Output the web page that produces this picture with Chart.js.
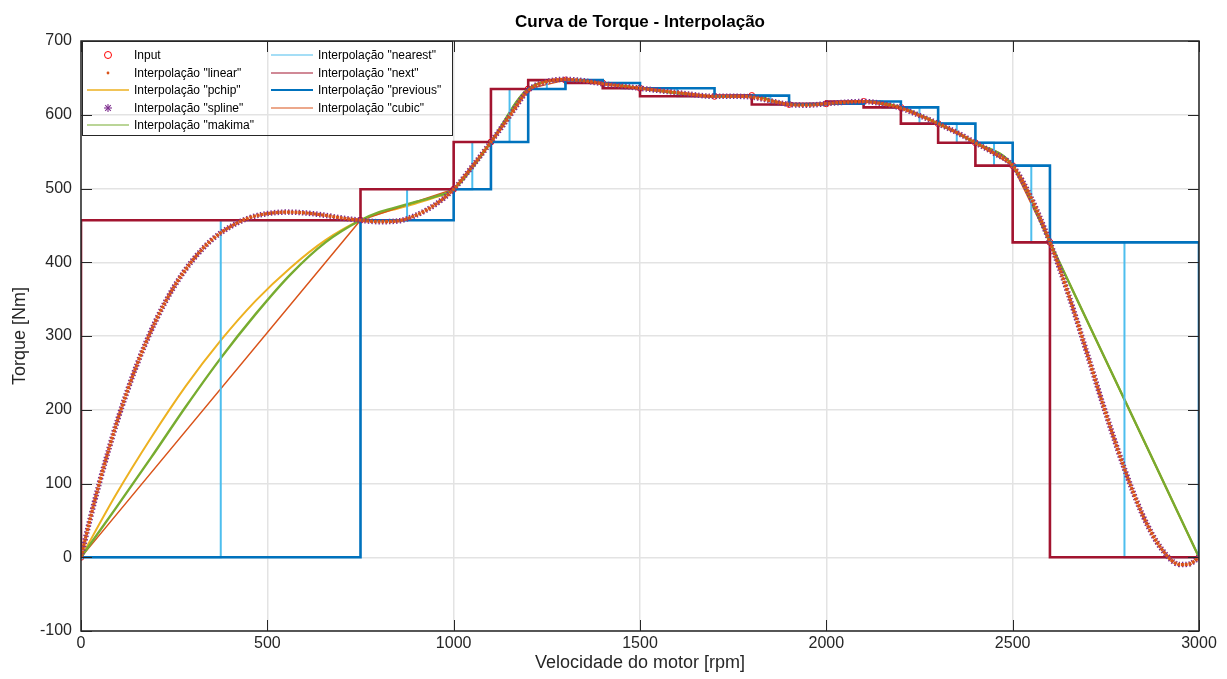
<!DOCTYPE html>
<html>
<head>
<meta charset="utf-8">
<script src="https://cdn.jsdelivr.net/npm/chart.js@4.4.1/dist/chart.umd.min.js"></script>
<style>
  body { margin: 0; background: #fff; }
  #wrap { position: relative; width: 1227px; height: 679px; font-family: "Liberation Sans", Arial, Helvetica, sans-serif; }
  #chart { position: absolute; left: 0; top: 0; }
  #title { position: absolute; left: 81px; width: 1118px; top: 11px; line-height: 22px; text-align: center; font-weight: bold; font-size: 17px; color: #000; }
  #legend { position: absolute; left: 82px; top: 41px; width: 371px; height: 95px; border: 1px solid #262626; box-sizing: border-box; }
  .item { position: absolute; height: 16px; font-size: 12px; line-height: 16px; color: #000; white-space: nowrap; }
  .item svg { position: absolute; left: 0; top: 2px; }
  .item span { position: absolute; left: 47px; top: 0; }
</style>
</head>
<body>
<div id="wrap">
  <canvas id="chart" width="1227" height="679"></canvas>
  <div id="title">Curva de Torque - Interpolação</div>
  <div id="legend"></div>
</div>
<script>
// ---------- data ----------
const chartTitle = 'Curva de Torque - Interpolação';
const xAxisTitle = 'Velocidade do motor [rpm]';
const yAxisTitle = 'Torque [Nm]';
const xTicks = [0, 500, 1000, 1500, 2000, 2500, 3000];
const yTicks = [-100, 0, 100, 200, 300, 400, 500, 600, 700];

// input points (rpm, Nm)
const inputRpm    = [0, 750, 1000, 1100, 1200, 1300, 1400, 1500, 1700, 1800, 1900, 2000, 2100, 2200, 2300, 2400, 2500, 2600, 3000];
const inputTorque = [0, 457, 499, 563, 635, 647, 643, 636, 625, 626, 614, 615, 618, 610, 588, 562, 531, 427, 0];

// dense-marker curve ("linear" dots / "spline" asterisks)
const splineRpm    = [0, 25, 50, 75, 100, 150, 200, 250, 300, 350, 400, 450, 500, 550, 600, 650, 700, 750, 800, 850, 900, 950, 1000, 1050, 1100, 1150, 1200, 1250, 1300, 1350, 1400, 1450, 1500, 1600, 1700, 1750, 1800, 1850, 1900, 1950, 2000, 2050, 2100, 2150, 2200, 2250, 2300, 2350, 2400, 2450, 2500, 2550, 2600, 2650, 2700, 2750, 2800, 2850, 2900, 2950, 2975, 3000];
const splineTorque = [0, 53, 102, 147, 189, 261, 320, 367, 403, 430, 448, 460, 466, 468, 467, 464, 460, 457, 455, 456, 464, 478, 499, 530, 563, 598, 633, 645, 648, 646, 642, 639, 636, 630, 625, 625, 624, 619, 614, 613, 615, 617, 618, 615, 609, 599, 588, 576, 562, 548, 531, 487, 427, 356, 276, 195, 120, 56, 11, -10, -9, 0];

// pchip curve
const pchipRpm    = [0, 94, 188, 281, 375, 469, 563, 656, 750, 800, 850, 900, 950, 1000, 1100, 1200, 1300, 1400, 1500, 1700, 1800, 1900, 2000, 2100, 2200, 2300, 2400, 2500, 2600, 3000];
const pchipTorque = [0, 85, 162, 232, 294, 348, 393, 430, 457, 466, 473, 480, 488, 499, 563, 635, 647, 643, 636, 625, 626, 614, 615, 618, 610, 588, 562, 531, 427, 0];

// makima curve
const makimaRpm    = [0, 94, 188, 281, 375, 469, 563, 656, 750, 800, 850, 900, 950, 1000, 1100, 1200, 1300, 1400, 1500, 1700, 1800, 1900, 2000, 2100, 2200, 2300, 2400, 2500, 2600, 3000];
const makimaTorque = [0, 67, 135, 204, 270, 330, 384, 427, 457, 468, 475, 482, 489, 499, 563, 635, 647, 643, 636, 625, 626, 614, 615, 618, 610, 588, 562, 531, 427, 0];

const seriesNames = ['Input', 'Interpolação "linear"', 'Interpolação "pchip"', 'Interpolação "spline"', 'Interpolação "makima"',
                     'Interpolação "nearest"', 'Interpolação "next"', 'Interpolação "previous"', 'Interpolação "cubic"'];
const colors = { input: '#FF0000', linear: '#D95319', pchip: '#EDB120', spline: '#7E2F8E', makima: '#77AC30',
                 nearest: '#4DBEEE', next: '#A2142F', previous: '#0072BD', cubic: '#D95319' };

// ---------- build ----------
const pts = (xs, ys) => xs.map((x, i) => ({ x: x, y: ys[i] }));
const lineBase = { pointRadius: 0, pointHoverRadius: 0, fill: false, tension: 0 };

const datasets = [
  Object.assign({}, lineBase, { label: seriesNames[1], data: pts(splineRpm, splineTorque), borderColor: colors.linear, borderWidth: 3.2, borderDash: [3, 0.8], cubicInterpolationMode: 'monotone' }),
  Object.assign({}, lineBase, { label: seriesNames[3], data: pts(splineRpm, splineTorque), borderColor: colors.spline, borderWidth: 5.5, borderDash: [1.5, 2], cubicInterpolationMode: 'monotone' }),
  Object.assign({}, lineBase, { label: seriesNames[7], data: pts(inputRpm, inputTorque), borderColor: colors.previous, borderWidth: 2.6, stepped: 'before' }),
  Object.assign({}, lineBase, { label: seriesNames[6], data: pts(inputRpm, inputTorque), borderColor: colors.next, borderWidth: 2.6, stepped: 'after' }),
  Object.assign({}, lineBase, { label: seriesNames[5], data: pts(inputRpm, inputTorque), borderColor: colors.nearest, borderWidth: 2, stepped: 'middle' }),
  Object.assign({}, lineBase, { label: seriesNames[4], data: pts(makimaRpm, makimaTorque), borderColor: colors.makima, borderWidth: 2.4, cubicInterpolationMode: 'monotone' }),
  Object.assign({}, lineBase, { label: seriesNames[8], data: pts(inputRpm, inputTorque), borderColor: colors.cubic, borderWidth: 1.4 }),
  Object.assign({}, lineBase, { label: seriesNames[2], data: pts(pchipRpm, pchipTorque), borderColor: colors.pchip, borderWidth: 2, cubicInterpolationMode: 'monotone' }),
  { label: seriesNames[0], data: pts(inputRpm, inputTorque), showLine: false, pointStyle: 'circle', pointRadius: 3, pointBorderWidth: 1,
    pointBorderColor: colors.input, pointBackgroundColor: 'rgba(0,0,0,0)', borderColor: colors.input }
];

const axesPlugin = {
  id: 'matlabAxes',
  afterDraw(chart) {
    const { ctx, chartArea: a, scales } = chart;
    const x = scales.x, y = scales.y;
    const tl = 11;
    ctx.save();
    ctx.strokeStyle = '#262626';
    ctx.lineWidth = 1;
    ctx.beginPath();
    xTicks.forEach(v => {
      const px = Math.round(x.getPixelForValue(v)) + 0.5;
      ctx.moveTo(px, a.bottom); ctx.lineTo(px, a.bottom - tl);
      ctx.moveTo(px, a.top); ctx.lineTo(px, a.top + tl);
    });
    yTicks.forEach(v => {
      const py = Math.round(y.getPixelForValue(v)) + 0.5;
      ctx.moveTo(a.left, py); ctx.lineTo(a.left + tl, py);
      ctx.moveTo(a.right, py); ctx.lineTo(a.right - tl, py);
    });
    ctx.stroke();
    ctx.lineWidth = 1.5;
    ctx.strokeRect(a.left, a.top, a.right - a.left, a.bottom - a.top);
    ctx.restore();
  }
};

Chart.defaults.font.family = "'Liberation Sans', Arial, Helvetica, sans-serif";
Chart.defaults.color = '#262626';

new Chart(document.getElementById('chart'), {
  type: 'line',
  data: { datasets: datasets },
  options: {
    responsive: false,
    animation: false,
    events: [],
    layout: { padding: { top: 41, right: 28, bottom: 0, left: 0 } },
    plugins: { legend: { display: false }, title: { display: false }, tooltip: { enabled: false } },
    scales: {
      x: {
        type: 'linear', min: 0, max: 3000,
        afterBuildTicks: s => { s.ticks = xTicks.map(v => ({ value: v })); },
        ticks: { font: { size: 16 }, color: '#262626', padding: 3, maxRotation: 0, callback: v => String(v) },
        grid: { color: '#e3e3e3', lineWidth: 1.5, drawTicks: false },
        border: { display: false },
        title: { display: true, text: xAxisTitle, font: { size: 18 }, color: '#262626', padding: { top: 0, bottom: 5 } },
        afterFit: s => { s.height = 48; }
      },
      y: {
        type: 'linear', min: -100, max: 700,
        afterBuildTicks: s => { s.ticks = yTicks.map(v => ({ value: v })); },
        ticks: { font: { size: 16 }, color: '#262626', padding: 9, callback: v => String(v) },
        grid: { color: '#e3e3e3', lineWidth: 1.5, drawTicks: false },
        border: { display: false },
        title: { display: true, text: yAxisTitle, font: { size: 18 }, color: '#262626', padding: { top: 9, bottom: 0 } },
        afterFit: s => { s.width = 81; }
      }
    }
  },
  plugins: [axesPlugin]
});

// ---------- legend (HTML, inside the axes, top-left) ----------
function iconSvg(kind, color) {
  const ns = 'http://www.w3.org/2000/svg';
  const svg = document.createElementNS(ns, 'svg');
  svg.setAttribute('width', '42'); svg.setAttribute('height', '12');
  const add = (tag, attrs) => { const e = document.createElementNS(ns, tag); for (const k in attrs) e.setAttribute(k, attrs[k]); svg.appendChild(e); };
  if (kind === 'circle') add('circle', { cx: 21, cy: 6, r: 3.5, fill: 'none', stroke: color, 'stroke-width': 1 });
  else if (kind === 'dot') add('circle', { cx: 21, cy: 6, r: 1.4, fill: color });
  else if (kind === 'star') {
    [[21, 2, 21, 10], [17, 6, 25, 6], [18.2, 3.2, 23.8, 8.8], [18.2, 8.8, 23.8, 3.2]].forEach(l =>
      add('line', { x1: l[0], y1: l[1], x2: l[2], y2: l[3], stroke: color, 'stroke-width': 1.1 }));
  } else add('line', { x1: 0, y1: 6, x2: 42, y2: 6, stroke: color, 'stroke-width': kind });
  return svg;
}
const legendItems = [
  { name: seriesNames[0], kind: 'circle', color: colors.input, col: 0, row: 0 },
  { name: seriesNames[1], kind: 'dot', color: colors.linear, col: 0, row: 1 },
  { name: seriesNames[2], kind: 1.4, color: colors.pchip, col: 0, row: 2 },
  { name: seriesNames[3], kind: 'star', color: colors.spline, col: 0, row: 3 },
  { name: seriesNames[4], kind: 1.2, color: colors.makima, col: 0, row: 4 },
  { name: seriesNames[5], kind: 1.2, color: colors.nearest, col: 1, row: 0 },
  { name: seriesNames[6], kind: 1.2, color: colors.next, col: 1, row: 1 },
  { name: seriesNames[7], kind: 2, color: colors.previous, col: 1, row: 2 },
  { name: seriesNames[8], kind: 1.2, color: colors.cubic, col: 1, row: 3 }
];
const colLeft = [4, 188];
const rowTop = [5, 22.5, 40, 57.5, 75];
const legend = document.getElementById('legend');
legendItems.forEach(it => {
  const d = document.createElement('div');
  d.className = 'item';
  d.style.left = colLeft[it.col] + 'px';
  d.style.top = rowTop[it.row] + 'px';
  d.appendChild(iconSvg(it.kind, it.color));
  const s = document.createElement('span');
  s.textContent = it.name;
  d.appendChild(s);
  legend.appendChild(d);
});
</script>
</body>
</html>
